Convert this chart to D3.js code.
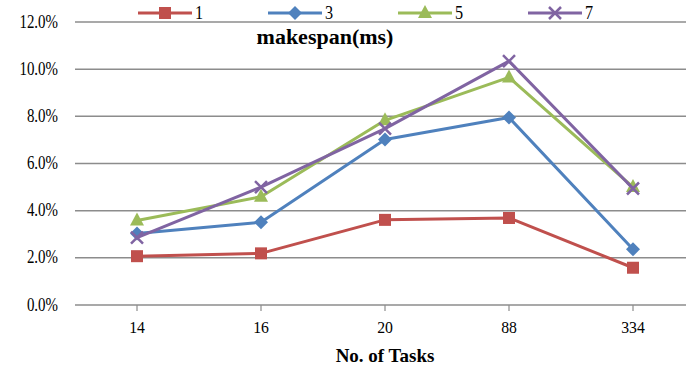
<!DOCTYPE html>
<html><head><meta charset="utf-8">
<script src="https://cdn.jsdelivr.net/npm/d3@7"></script>
<style>body{margin:0;background:#fff}svg{display:block}</style>
</head><body>
<svg id="c" width="686" height="370"></svg>
<script>
const categories = ["14","16","20","88","334"];
const seriesNames = ["1","3","5","7"];
const s1 = [2.07, 2.19, 3.61, 3.69, 1.58];
const s3 = [3.03, 3.51, 7.02, 7.95, 2.36];
const s5 = [3.58, 4.59, 7.83, 9.65, 5.0];
const s7 = [2.86, 5.0, 7.48, 10.34, 4.94];
const yTicks = [0, 2, 4, 6, 8, 10, 12];

const colors = ["#C0504D", "#4F81BD", "#9BBB59", "#8064A2"];
const symbols = ["square", "diamond", "triangle", "cross"];
const allSeries = [s1, s3, s5, s7];

const svg = d3.select("#c");
const W = 686;
const x = d3.scaleBand().domain(categories).range([75, 695]);
const y = d3.scaleLinear().domain([0, 12]).range([305, 22]);
const cx = d => x(d) + x.bandwidth() / 2;
const font = "'Liberation Serif','Times New Roman',serif";

function txt(g, px, py, s, size, anchor, sx, bold) {
  const t = g.append("text")
    .attr("transform", `translate(${px},${py}) scale(${sx},1)`)
    .attr("text-anchor", anchor).attr("font-family", font).attr("font-size", size)
    .attr("fill", "#000").text(s);
  if (bold) t.attr("font-weight", "bold");
  return t;
}

// gridlines
svg.append("g").selectAll("line").data(yTicks).join("line")
  .attr("x1", 75).attr("x2", W).attr("y1", d => y(d)).attr("y2", d => y(d))
  .attr("stroke", "#8c8c8c").attr("stroke-width", 1.5);

// y labels
const yl = svg.append("g");
yTicks.forEach(d => txt(yl, 58, y(d) + 5.5, d.toFixed(1) + "%", 18, "end", 0.83));

// x ticks
svg.append("g").selectAll("line").data(categories).join("line")
  .attr("x1", cx).attr("x2", cx).attr("y1", 305).attr("y2", 311)
  .attr("stroke", "#8c8c8c").attr("stroke-width", 1.2);
const xl = svg.append("g");
categories.forEach(c => txt(xl, cx(c), 333, c, 17.5, "middle", 0.9));

txt(svg, 385, 362, "No. of Tasks", 19, "middle", 1, true);
txt(svg, 325, 44, "makespan(ms)", 20, "middle", 1.1, true);

function marker(g, type, color, px, py) {
  if (type === "square") {
    g.append("rect").attr("x", px - 6).attr("y", py - 6).attr("width", 12).attr("height", 12).attr("fill", color);
  } else if (type === "diamond") {
    g.append("path").attr("d", `M${px},${py-7}L${px+7},${py}L${px},${py+7}L${px-7},${py}Z`).attr("fill", color);
  } else if (type === "triangle") {
    g.append("path").attr("d", `M${px},${py-8}L${px+7},${py+5}L${px-7},${py+5}Z`).attr("fill", color);
  } else {
    g.append("path").attr("d", `M${px-6},${py-6}L${px+6},${py+6}M${px+6},${py-6}L${px-6},${py+6}`)
      .attr("stroke", color).attr("stroke-width", 2.5).attr("fill", "none");
  }
}

const line = d3.line().x((d, i) => cx(categories[i])).y(d => y(d));
allSeries.forEach((s, k) => {
  const g = svg.append("g");
  g.append("path").datum(s).attr("d", line).attr("fill", "none")
    .attr("stroke", colors[k]).attr("stroke-width", 3).attr("stroke-linejoin", "round");
  s.forEach((v, i) => marker(g, symbols[k], colors[k], cx(categories[i]), y(v)));
});

// legend
seriesNames.forEach((n, k) => {
  const lx = 138 + k * 130, ly = 13;
  const g = svg.append("g");
  g.append("line").attr("x1", lx).attr("x2", lx + 54).attr("y1", ly).attr("y2", ly)
    .attr("stroke", colors[k]).attr("stroke-width", 3);
  marker(g, symbols[k], colors[k], lx + 27, ly);
  txt(g, lx + 57, ly + 6, n, 18, "start", 0.9);
});
</script>
</body></html>
